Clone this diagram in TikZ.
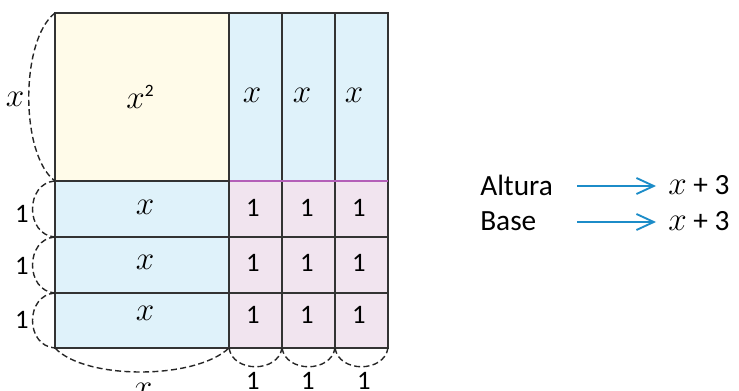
\documentclass[tikz,border=0pt]{standalone}
\usepackage{fontspec}
\setmainfont{Carlito}
\usetikzlibrary{arrows.meta}
\definecolor{yel}{HTML}{FFFBE9}
\definecolor{blu}{HTML}{DFF2FA}
\definecolor{pnk}{HTML}{F1E4EF}
\definecolor{edge}{HTML}{333333}
\definecolor{mag}{HTML}{B45FB8}
\definecolor{arr}{HTML}{1C8CC8}
\begin{document}
\begin{tikzpicture}[x=0.75pt,y=-0.75pt,
 gridln/.style={draw=edge, line width=0.9pt},
 brace/.style={draw=black!85, line width=1.05pt, dash pattern=on 4.5pt off 2.5pt},
 xl/.style={font=\fontsize{27}{27}\selectfont, inner sep=0},
 one/.style={font=\fontsize{20}{20}\selectfont, inner sep=0},
 lbl/.style={font=\fontsize{22}{22}\selectfont, inner sep=0, anchor=west},
 arrw/.style={draw=arr, line width=1.4pt, -{Straight Barb[length=13pt,width=12pt,line width=1.4pt]}}
 ]
\useasboundingbox (0,0) rectangle (739,391);
% grid corners
\coordinate (L0) at (55,13);  \coordinate (L1) at (55,181);
\coordinate (L2) at (55,237); \coordinate (L3) at (55,293);
\coordinate (L4) at (55,348);
\coordinate (B1) at (229,348); \coordinate (B2) at (282,348);
\coordinate (B3) at (335,348); \coordinate (B4) at (388,348);
% fills
\fill[yel] (55,13) rectangle (229,181);
\fill[blu] (229,13) rectangle (388,181);
\fill[blu] (55,181) rectangle (229,348);
\fill[pnk] (229,181) rectangle (388,348);
% grid lines
\draw[gridln] (55,13) rectangle (388,348);
\draw[gridln] (229,13) -- (229,348);
\draw[gridln] (282,13) -- (282,348);
\draw[gridln] (335,13) -- (335,348);
\draw[gridln] (55,181) -- (229,181);
\draw[gridln] (55,237) -- (388,237);
\draw[gridln] (55,293) -- (388,293);
\draw[draw=mag, line width=1.2pt] (229.5,181) -- (388,181);
% cell labels
\node[xl] (sq) at (140,97) {$x$\raisebox{9pt}{\fontsize{13}{13}\selectfont 2}};
\node[xl] (t1) at (252,95) {$x$};
\node[xl] (t2) at (302,95) {$x$};
\node[xl] (t3) at (354,95) {$x$};
\node[xl] (r1) at (145,207) {$x$};
\node[xl] (r2) at (145,262) {$x$};
\node[xl] (r3) at (145,313) {$x$};
\foreach \c/\cx in {a/253,b/307,c/359}{
  \node[one] (u\c1) at (\cx,208) {1};
  \node[one] (u\c2) at (\cx,263) {1};
  \node[one] (u\c3) at (\cx,315) {1};
}
% braces
\draw[brace] (L0) .. controls (20,40) and (20,155) .. (L1);
\draw[brace] (L1) .. controls (25,183) and (25,235) .. (L2);
\draw[brace] (L2) .. controls (25,239) and (25,291) .. (L3);
\draw[brace] (L3) .. controls (25,295) and (25,346) .. (L4);
\draw[brace] (L4) .. controls (85,380) and (195,380) .. (B1);
\draw[brace] (B1) .. controls (233,373) and (278,373) .. (B2);
\draw[brace] (B2) .. controls (286,373) and (331,373) .. (B3);
\draw[brace] (B3) .. controls (339,373) and (384,373) .. (B4);
% brace labels
\node[xl] (lx) at (15,99) {$x$};
\node[one] (l1) at (22,214) {1};
\node[one] (l2) at (22,266) {1};
\node[one] (l3) at (22,320) {1};
\node[xl] (bx) at (143,390) {$x$};
\node[one] (b1) at (253,381) {1};
\node[one] (b2) at (308,381) {1};
\node[one] (b3) at (364,381) {1};
% right side
\node[lbl] (alt) at (480,185) {Altura};
\node[lbl] (bas) at (480,221) {Base};
\node[lbl] (ea) at (668,185) {\fontsize{27}{27}\selectfont$x$\fontsize{22}{22}\selectfont{} + 3};
\node[lbl] (eb) at (668,221) {\fontsize{27}{27}\selectfont$x$\fontsize{22}{22}\selectfont{} + 3};
\coordinate (a0) at (577,186); \coordinate (a1) at (656,186);
\coordinate (b0) at (577,222); \coordinate (b1e) at (656,222);
\draw[arrw] (a0) -- (a1);
\draw[arrw] (b0) -- (b1e);
\end{tikzpicture}
\end{document}
